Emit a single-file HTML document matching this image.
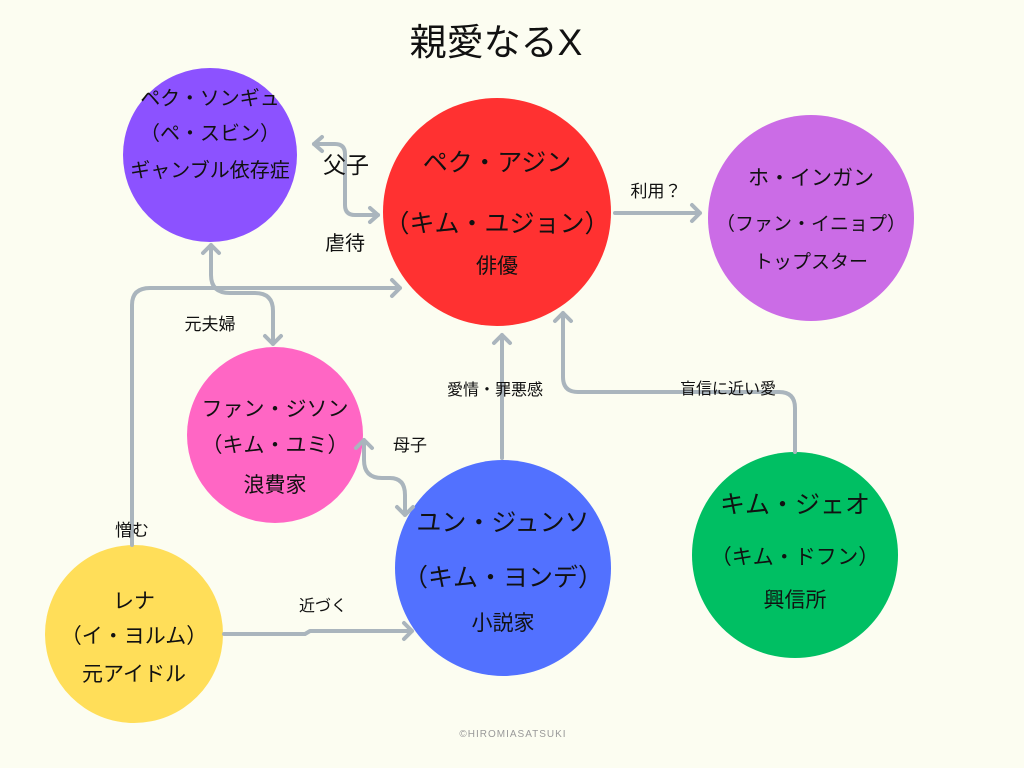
<!DOCTYPE html>
<html><head><meta charset="utf-8"><style>
body{margin:0;background:#fcfdf1;}
svg{display:block}
text{font-family:"Liberation Sans","Noto Sans CJK JP",sans-serif;fill:#111;text-anchor:middle}
</style></head><body>
<svg width="1024" height="768" viewBox="0 0 1024 768">
<rect width="1024" height="768" fill="#fcfdf1"/>
<text x="496" y="55" font-size="37">親愛なるX</text>
<circle cx="210" cy="155" r="87" fill="#8c52ff"/>
<circle cx="497" cy="212" r="114" fill="#ff3131"/>
<circle cx="811" cy="218" r="103" fill="#cb6ce6"/>
<circle cx="275" cy="435" r="88" fill="#ff66c4"/>
<circle cx="503" cy="568" r="108" fill="#5271ff"/>
<circle cx="795" cy="555" r="103" fill="#00bf63"/>
<circle cx="134" cy="634" r="89" fill="#ffde59"/>
<g fill="none" stroke="#aab5bd" stroke-width="4" stroke-linecap="round" stroke-linejoin="round">
<path d="M314 144 H335 Q345 144 345 154 V205 Q345 215 355 215 H378"/>
<path d="M322 137 L314 144 L322 151 M370 208 L378 215 L370 222"/>
<path d="M615 213 H700 M692 205 L700 213 L692 221"/>
<path d="M211 245 V275 Q211 293 230 293 H255 Q273 293 273 311 V344 M203 253 L211 245 L219 253 M265 336 L273 344 L281 336"/>
<path d="M132 545 V305 Q132 288 150 288 H400 M392 280 L400 288 L392 296"/>
<path d="M364 440 V460 Q364 478 382 478 H390 Q405 478 405 495 V515 M356 448 L364 440 L372 448 M397 507 L405 515 L413 507"/>
<path d="M502 458 V335 M494 343 L502 335 L510 343"/>
<path d="M795 452 V408 Q795 392 779 392 H578 Q563 392 563 377 V313 M555 321 L563 313 L571 321"/>
<path d="M224 634 H305 L310 631 H412 M404 623 L412 631 L404 639"/>
</g>
<g font-size="21">
<text x="210" y="105" font-size="20">ペク・ソンギュ</text>
<text x="210" y="140" font-size="20">（ペ・スビン）</text>
<text x="210" y="177" font-size="20">ギャンブル依存症</text>
<text x="497" y="171" font-size="25">ペク・アジン</text>
<text x="497" y="232" font-size="25">（キム・ユジョン）</text>
<text x="497" y="273">俳優</text>
<text x="811" y="185">ホ・インガン</text>
<text x="811" y="230" font-size="19">（ファン・イニョプ）</text>
<text x="811" y="268" font-size="19">トップスター</text>
<text x="275" y="416">ファン・ジソン</text>
<text x="275" y="452">（キム・ユミ）</text>
<text x="275" y="492">浪費家</text>
<text x="503" y="531" font-size="25">ユン・ジュンソ</text>
<text x="503" y="586" font-size="25">（キム・ヨンデ）</text>
<text x="503" y="630">小説家</text>
<text x="795" y="513" font-size="25">キム・ジェオ</text>
<text x="795" y="564">（キム・ドフン）</text>
<text x="795" y="607">興信所</text>
<text x="134" y="608">レナ</text>
<text x="134" y="643">（イ・ヨルム）</text>
<text x="134" y="681">元アイドル</text>
</g>
<g font-size="17">
<text x="346" y="173" font-size="23">父子</text>
<text x="345" y="250" font-size="20">虐待</text>
<text x="656" y="197">利用？</text>
<text x="210" y="330">元夫婦</text>
<text x="410" y="451">母子</text>
<text x="495" y="395" font-size="16">愛情・罪悪感</text>
<text x="728" y="394" font-size="16">盲信に近い愛</text>
<text x="132" y="536">憎む</text>
<text x="323" y="611" font-size="16">近づく</text>
</g>
<text x="513" y="737" font-size="10" letter-spacing="1" style="fill:#999">©HIROMIASATSUKI</text>
</svg>
</body></html>
